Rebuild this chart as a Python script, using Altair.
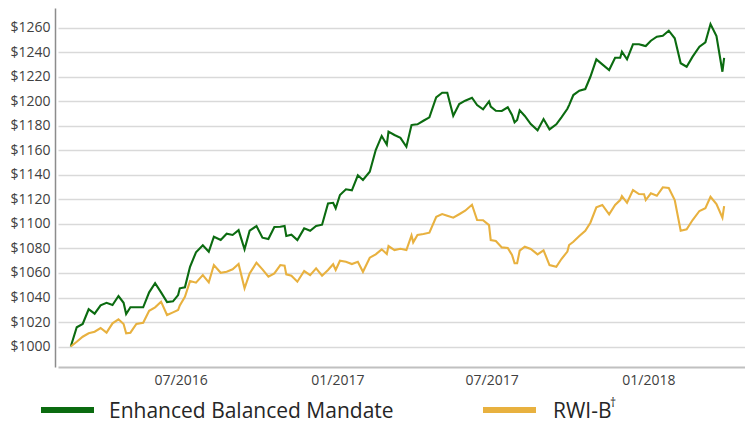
import altair as alt
import pandas as pd

FONT = "Open Sans"

dates = [
    "2016-02-23", "2016-03-01", "2016-03-08", "2016-03-15", "2016-03-22", "2016-03-29", "2016-04-05", "2016-04-12", "2016-04-19", "2016-04-25",
    "2016-04-28", "2016-05-03", "2016-05-10", "2016-05-18", "2016-05-25", "2016-06-01", "2016-06-08", "2016-06-15", "2016-06-22", "2016-06-28",
    "2016-06-30", "2016-07-06", "2016-07-12", "2016-07-19", "2016-07-27", "2016-08-03", "2016-08-09", "2016-08-17", "2016-08-24", "2016-08-31",
    "2016-09-07", "2016-09-14", "2016-09-20", "2016-09-28", "2016-10-05", "2016-10-12", "2016-10-19", "2016-10-26", "2016-10-31", "2016-11-02",
    "2016-11-08", "2016-11-15", "2016-11-23", "2016-11-30", "2016-12-07", "2016-12-14", "2016-12-21", "2016-12-27", "2016-12-30", "2017-01-04",
    "2017-01-11", "2017-01-18", "2017-01-25", "2017-01-31", "2017-02-08", "2017-02-15", "2017-02-22", "2017-02-28", "2017-03-02", "2017-03-09",
    "2017-03-16", "2017-03-23", "2017-03-29", "2017-03-31", "2017-04-05", "2017-04-12", "2017-04-19", "2017-04-27", "2017-05-04", "2017-05-10",
    "2017-05-17", "2017-05-24", "2017-05-31", "2017-06-08", "2017-06-14", "2017-06-21", "2017-06-28", "2017-06-30", "2017-07-06", "2017-07-13",
    "2017-07-20", "2017-07-25", "2017-07-28", "2017-07-31", "2017-08-03", "2017-08-09", "2017-08-16", "2017-08-24", "2017-08-31", "2017-09-07",
    "2017-09-15", "2017-09-21", "2017-09-28", "2017-09-30", "2017-10-05", "2017-10-12", "2017-10-19", "2017-10-25", "2017-11-01", "2017-11-08",
    "2017-11-16", "2017-11-23", "2017-11-29", "2017-12-01", "2017-12-07", "2017-12-14", "2017-12-21", "2017-12-27", "2017-12-29", "2018-01-04",
    "2018-01-11", "2018-01-18", "2018-01-25", "2018-02-01", "2018-02-08", "2018-02-15", "2018-02-22", "2018-03-02", "2018-03-09", "2018-03-15",
    "2018-03-22", "2018-03-29", "2018-03-31",
]

enhanced = [
    1000, 1015.7, 1018.4, 1030.4, 1026.8, 1033.6, 1035.7, 1033.9, 1041.2, 1035.7,
    1026.5, 1032, 1032, 1032, 1044.2, 1051.6, 1044.2, 1036.3, 1036.9, 1042,
    1047.5, 1048.3, 1065.1, 1076.9, 1082.6, 1077.3, 1089.6, 1086.9, 1092, 1091,
    1095, 1079.3, 1094.5, 1098.3, 1088.8, 1087.7, 1097.5, 1097.7, 1098.3, 1090.2,
    1091.2, 1086.9, 1096.4, 1094.5, 1098.3, 1099.4, 1116.8, 1117.3, 1112.8, 1123.6,
    1128.3, 1127.4, 1139.7, 1135.9, 1142.6, 1160.3, 1171.8, 1164.7, 1175.3, 1172.6,
    1170.3, 1163, 1180.7, 1181, 1181.3, 1184.2, 1187, 1203.3, 1207.1, 1207.1,
    1188.3, 1197.9, 1200.6, 1203, 1197, 1193.5, 1200, 1195.7, 1192.4, 1192.2,
    1195.2, 1188.9, 1182.9, 1184.8, 1192.7, 1188.1, 1181.5, 1176.4, 1185.6, 1177.2,
    1181.3, 1187, 1194, 1197, 1205.2, 1208.7, 1210.1, 1220.1, 1234.3, 1230.2,
    1225.6, 1235.6, 1235.6, 1240.5, 1234.3, 1246.6, 1246.6, 1245.5, 1245.2, 1249.5,
    1252.8, 1253.6, 1257.7, 1251.5, 1231.1, 1228.3, 1236.5, 1244.6, 1248.2, 1263.1,
    1253.3, 1224.2, 1235.6,
]

rwi_b = [
    1000, 1003.9, 1008, 1010.8, 1012.1, 1015.1, 1011.3, 1018.9, 1022.2, 1018.4,
    1010.8, 1011.3, 1018.4, 1019.4, 1029.2, 1032, 1036.6, 1025.7, 1027.9, 1029.8,
    1033.6, 1040.6, 1053.4, 1052.1, 1058.3, 1052.4, 1066.5, 1060.2, 1061, 1063,
    1067.3, 1047.5, 1059.7, 1068.4, 1063, 1057, 1059.7, 1066.5, 1065.9, 1058.9,
    1057.8, 1052.9, 1061.6, 1058.3, 1063.8, 1057.8, 1062.4, 1067.1, 1062.4, 1070,
    1069.2, 1067.3, 1069.2, 1061, 1072.5, 1075.2, 1079.3, 1075.5, 1082, 1078.7,
    1079.8, 1078.7, 1090.7, 1085, 1091, 1091.8, 1092.9, 1105.9, 1108.1, 1106.7,
    1105.1, 1107.9, 1110.8, 1115.7, 1103.2, 1103, 1099.1, 1086.9, 1086.1, 1080.9,
    1080.4, 1074.7, 1067.9, 1067.9, 1078.2, 1081.4, 1079.6, 1075.2, 1078.5, 1066.5,
    1065.1, 1071.4, 1077.5, 1082.8, 1085.5, 1090.2, 1094.5, 1101, 1113.6, 1115.5,
    1107.9, 1115.5, 1119.5, 1122.8, 1117.3, 1127.7, 1124.4, 1124.2, 1119.5, 1125,
    1123, 1129.9, 1129.3, 1119.5, 1094.5, 1095.6, 1103.2, 1110.6, 1112.8, 1122.2,
    1116.3, 1105.1, 1114.6,
]

series_names = ["Enhanced Balanced Mandate", "RWI-B"]
series_colors = ["#0b6b10", "#e8b13f"]
y_ticks = list(range(1000, 1261, 20))
x_ticks = ["2016-07-01", "2017-01-01", "2017-07-01", "2018-01-01"]

rows = []
for d, g, r in zip(dates, enhanced, rwi_b):
    rows.append({"date": d, "series": series_names[0], "value": g})
    rows.append({"date": d, "series": series_names[1], "value": r})
df = pd.DataFrame(rows)


def utc(s, hours=0):
    y, m, d = map(int, s.split("-"))
    return alt.DateTime(year=y, month=m, date=d, hours=hours, utc=True)


x_scale = alt.Scale(type="utc", domain=[utc("2016-02-08"), utc("2018-04-24", 12)])
y_scale = alt.Scale(domain=[983.3, 1276.2], nice=False, zero=False)

lines = alt.Chart(df).mark_line(strokeWidth=2.1).encode(
    x=alt.X(
        "date:T",
        scale=x_scale,
        axis=alt.Axis(
            values=[utc(t) for t in x_ticks], format="%m/%Y", title=None, grid=False,
            ticks=False, domainColor="#c0c0c0", domainWidth=2, labelFont=FONT,
            labelFontSize=14, labelColor="#404040", labelPadding=6,
            labelOverlap=False, labelFlush=False,
        ),
    ),
    y=alt.Y(
        "value:Q",
        scale=y_scale,
        axis=alt.Axis(
            values=y_ticks, labelExpr="'$' + datum.value", title=None, ticks=False,
            grid=True, gridColor="#d9d9d9", gridWidth=1.5, domainColor="#8c8c8c",
            domainWidth=1.5, offset=3, labelFont=FONT, labelFontSize=14,
            labelColor="#404040", labelPadding=5,
        ),
    ),
    color=alt.Color("series:N", scale=alt.Scale(domain=series_names, range=series_colors), legend=None),
    detail="series:N",
)

leg1 = pd.DataFrame({"label": [series_names[0]]})
leg2 = pd.DataFrame({"label": [series_names[1]]})
dag = pd.DataFrame({"label": ["\u2020"]})

rule1 = alt.Chart(leg1).mark_rule(color=series_colors[0], strokeWidth=6).encode(
    x=alt.value(-17), x2=alt.value(36), y=alt.value(402)
)
text1 = alt.Chart(leg1).mark_text(align="left", baseline="alphabetic", font=FONT, fontSize=21, color="#262626").encode(
    x=alt.value(51), y=alt.value(410), text="label:N"
)
rule2 = alt.Chart(leg2).mark_rule(color=series_colors[1], strokeWidth=6).encode(
    x=alt.value(425), x2=alt.value(478), y=alt.value(402)
)
text2 = alt.Chart(leg2).mark_text(align="left", baseline="alphabetic", font=FONT, fontSize=21, color="#262626").encode(
    x=alt.value(495), y=alt.value(410), text="label:N"
)
dagger = alt.Chart(dag).mark_text(align="left", baseline="alphabetic", font=FONT, fontSize=12, color="#262626").encode(
    x=alt.value(552), y=alt.value(399), text="label:N"
)

chart = alt.layer(lines, rule1, text1, rule2, text2, dagger).properties(
    width=687,
    height=359,
    padding={"left": 50, "top": 0, "right": 0, "bottom": 57},
    autosize=alt.AutoSizeParams(type="none"),
).configure_view(stroke=None)

chart.save("out.html", embed_options={"renderer": "svg", "actions": False})
